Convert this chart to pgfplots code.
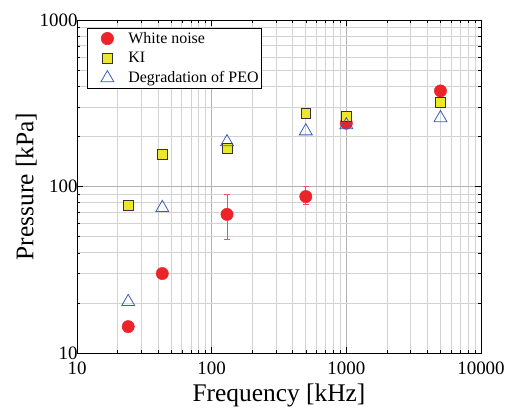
\documentclass[border=0pt]{standalone}
\usepackage{pgfplots}
\pgfplotsset{compat=1.18}
\usepackage{fontspec}
\setmainfont{Liberation Serif}
\definecolor{wnred}{RGB}{236,36,42}
\definecolor{wnerr}{RGB}{240,80,90}
\definecolor{kiyel}{RGB}{238,230,40}
\definecolor{peoblue}{RGB}{55,95,185}
\pgfplotsset{wide legend/.style={legend image code/.code={%
      \path[draw=none, fill=none] (0bp,0bp) (38bp,0bp);
      \draw[##1] plot coordinates {(19bp,0bp)};}}}
\begin{document}
\begin{tikzpicture}
  \begin{axis}[
    xmode=log, ymode=log,
    scale only axis,
    width=404bp, height=333bp,
    xmin=10, xmax=10000, ymin=10, ymax=1000,
    xtick={10,100,1000,10000}, xticklabels={10,100,1000,10000},
    ytick={10,100,1000}, yticklabels={10,100,1000},
    /pgf/number format/assume math mode=true,
    tick label style={font=\fontsize{19}{21}\selectfont},
    yticklabel style={xshift=4pt},
    xticklabel style={yshift=-5pt},
    xlabel={Frequency [kHz]}, ylabel={Pressure [kPa]},
    label style={font=\fontsize{25.5}{27}\selectfont},
    xlabel style={yshift=-3pt},
    ylabel style={yshift=-4pt},
    tick align=inside, tick pos=both,
    major tick length=6pt, minor tick length=3.5pt,
    every tick/.style={black, line width=0.5pt},
    grid=both,
    major grid style={gray!60, line width=0.7pt},
    minor grid style={gray!35, line width=0.6pt},
    axis line style={black, line width=0.8pt},
    legend style={at={(0.025,0.976)}, anchor=north west, draw=black, line width=0.6pt,
      font=\fontsize{16}{18}\selectfont, row sep=3.5pt, inner xsep=1pt, inner ysep=2pt,
      cells={anchor=west}},
    legend cell align=left,
  ]
  \addplot[only marks, wide legend, mark=*, mark size=6.2pt, color=wnred, fill=wnred,
    error bars/.cd, y dir=both, y explicit,
    error bar style={color=wnerr, line width=1pt}, error mark options={color=wnerr, line width=1pt, mark size=3pt, rotate=90}]
    coordinates {
      (24,14.4) +- (0,0)
      (43,30) +- (0,0)
      (130,68) += (0,22) -= (0,20)
      (500,87) += (0,13) -= (0,9)
      (1000,240) +- (0,8)
      (5000,375) +- (0,8)
    };
  \addlegendentry{White noise}
  \addplot[only marks, wide legend, mark=square*, mark size=5pt, draw=black!80, fill=kiyel, line width=0.6pt,
    error bars/.cd, y dir=both, y explicit,
    error bar style={black, line width=0.7pt}, error mark options={black, line width=0.7pt, mark size=2.5pt, rotate=90}]
    coordinates {
      (24,77.5) +- (0,4)
      (43,157) +- (0,8)
      (130,169) +- (0,9)
      (500,274) +- (0,14)
      (1000,265) +- (0,14)
      (5000,322) +- (0,16)
    };
  \addlegendentry{KI}
  \addplot[only marks, wide legend, mark=triangle, mark size=7.5pt, draw=peoblue, line width=0.8pt]
    coordinates {
      (24,20.3)
      (43,74.5)
      (130,185)
      (500,215)
      (1000,234)
      (5000,258)
    };
  \addlegendentry{Degradation of PEO}
  \end{axis}
  \pgfresetboundingbox
  \path ([xshift=-77bp,yshift=-66bp]current axis.south west)
    rectangle ([xshift=25bp,yshift=20bp]current axis.north east);
\end{tikzpicture}
\end{document}
